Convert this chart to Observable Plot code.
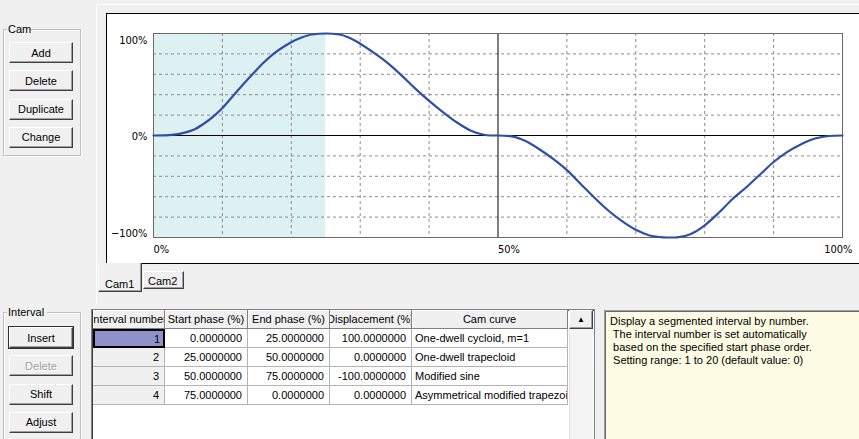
<!DOCTYPE html>
<html>
<head>
<meta charset="utf-8">
<script src="https://cdn.jsdelivr.net/npm/d3@7"></script>
<script src="https://cdn.jsdelivr.net/npm/@observablehq/plot@0.6"></script>
<style>
  html, body { margin: 0; padding: 0; }
  body { width: 859px; height: 439px; overflow: hidden; background: #F0F0F0; position: relative;
         font-family: "Liberation Sans", Arial, sans-serif; font-size: 11px; color: #000; }
  .abs { position: absolute; box-sizing: border-box; }
  .group { border: 1px solid #bfbfbf; box-shadow: inset 1px 1px 0 #fff, 1px 1px 0 #fff; }
  .glabel { background: #F0F0F0; padding: 0 1px; line-height: 12px; }
  .btn { background: #F0F0F0; border-style: solid; border-width: 1px;
         border-color: #fff #404040 #404040 #fff; box-shadow: inset -1px -1px 0 #a0a0a0;
         display: flex; align-items: center; justify-content: center; }
  .btn.dis { color: #a0a0a0; text-shadow: 1px 1px 0 #fff; }
  .cell { overflow: hidden; white-space: nowrap; display: flex; align-items: center; }
  .hcell { background: #F0F0F0; justify-content: center; border-right: 1px solid #808080; border-bottom: 1px solid #808080;
           box-shadow: inset 1px 1px 0 #fff; }
  .dcell { background: #fff; border-right: 1px solid #b4b4b4; border-bottom: 1px solid #b4b4b4; }
  .num { justify-content: flex-end; padding-right: 5px; }
  .txt { justify-content: flex-start; padding-left: 3px; }
  .fixed { background: #F0F0F0; }
</style>
</head>
<body>
<div id="root"></div>
<script>
// ---------- chart data ----------
const phase = [0, 1.5, 3, 4.5, 6, 7.5, 9, 10, 11.5, 13, 14.5, 16, 17.5, 19, 20, 21.5, 23, 25,
  27, 28.5, 30, 32, 34, 36, 38, 40, 42, 44, 46, 47.5, 49, 50,
  52, 54, 56, 58, 60, 62, 64, 66, 68, 70, 72, 74, 75, 76, 78, 80, 82, 84, 86, 88, 90, 92, 94, 96, 98, 100];
const displacementCurve = [0, 0.1, 0.8, 2.8, 6.2, 12.5, 20.5, 27, 38.5, 50, 61, 71.5, 80.5, 87.5, 91.5, 96, 99, 100,
  99, 95.5, 90, 81, 71, 59, 46, 34, 23, 13, 5, 1.5, 0, 0,
  -0.8, -5.5, -13.5, -23, -34, -47.5, -61, -73.5, -84, -92.5, -98, -99.8, -100, -99.8, -96.5, -88, -76, -62.5, -51, -38.5, -26, -16, -8.5, -3, -0.5, 0];

const xTickValues = [0, 50, 100];
const yTickValues = [100, 0, -100];
const xTickLabels = ["0%", "50%", "100%"];
const yTickLabels = ["100%", "0%", "\u2212100%"];
const xGridValues = [10, 20, 30, 40, 60, 70, 80, 90];
const yGridValues = [80, 60, 40, 20, -20, -40, -60, -80];
const xDomain = [0, 100];
const yDomain = [-100, 100];

// ---------- table data ----------
const intervalNumber = [1, 2, 3, 4];
const startPhase = [0, 25, 50, 75];
const endPhase = [25, 50, 75, 0];
const displacement = [100, 0, -100, 0];
const camCurve = ["One-dwell cycloid, m=1", "One-dwell trapecloid", "Modified sine", "Asymmetrical modified trapezoid"];
const headers = ["Interval number", "Start phase (%)", "End phase (%)", "Displacement (%)", "Cam curve"];
const selectedInterval = 0;

const helpLines = [
  "Display a segmented interval by number.",
  " The interval number is set automatically",
  " based on the specified start phase order.",
  " Setting range: 1 to 20 (default value: 0)"
];

const root = document.getElementById("root");
function el(cls, style, text) {
  const d = document.createElement("div");
  d.className = cls;
  Object.assign(d.style, style);
  if (text !== undefined) d.textContent = text;
  root.appendChild(d);
  return d;
}
const px = v => v + "px";
function box(cls, l, t, w, h, text, extra) {
  return el(cls, Object.assign({left: px(l), top: px(t), width: px(w), height: px(h)}, extra || {}), text);
}

// splitter lines
box("abs", 96, 4, 1, 300, undefined, {background: "#fff"});
box("abs", 96, 4, 763, 1, undefined, {background: "#fff"});

// Cam group
box("abs group", 3, 29, 78, 127);
box("abs glabel", 7, 23, 22, 12, "Cam");
["Add", "Delete", "Duplicate", "Change"].forEach((t, i) => box("abs btn", 9, 42 + i * 28.3, 64, 21, t));

// Interval group
box("abs group", 3, 312, 78, 140);
box("abs glabel", 7, 306, 40, 12, "Interval");
["Insert", "Delete", "Shift", "Adjust"].forEach((t, i) =>
  box("abs btn" + (t === "Delete" ? " dis" : ""), 9, 327 + i * 28.3, 64, 21, t,
      t === "Insert" ? {outline: "1px solid #303030"} : {}));

// Chart panel
const panel = box("abs", 106, 13, 770, 251, undefined, {border: "1px solid #000", background: "#fff"});

const pts = phase.map((p, i) => ({p, v: displacementCurve[i]}));
const sel = [{start: startPhase[selectedInterval], end: endPhase[selectedInterval]}];

const chart = Plot.plot({
  width: 752, height: 248,
  marginLeft: 46, marginRight: 17, marginTop: 19, marginBottom: 25,
  x: {domain: xDomain, axis: null},
  y: {domain: yDomain, axis: null},
  style: {background: "white", fontFamily: "'Liberation Sans Narrow', 'DejaVu Sans Condensed', sans-serif", fontSize: "11px", color: "#000"},
  marks: [
    Plot.rect(sel, {x1: "start", x2: "end", y1: () => yDomain[0], y2: () => yDomain[1], fill: "#DDF1F3"}),
    Plot.ruleX(xGridValues, {stroke: "#8c8c8c", strokeDasharray: "3,3"}),
    Plot.ruleY(yGridValues, {stroke: "#8c8c8c", strokeDasharray: "3,3"}),
    Plot.ruleY([0], {stroke: "#000"}),
    Plot.ruleX([50], {stroke: "#000"}),
    Plot.frame({stroke: "#6a6a6a"}),
    Plot.line(pts, {x: "p", y: "v", stroke: "#2D4FA6", strokeWidth: 2.2, curve: "monotone-x"}),
    Plot.text(xTickValues.filter(d => d < 100), {x: d => d, text: d => xTickLabels[xTickValues.indexOf(d)],
      frameAnchor: "bottom", lineAnchor: "middle", textAnchor: "start", dy: 12, dx: 0}),
    Plot.text(xTickValues.filter(d => d === 100), {x: d => d, text: d => xTickLabels[xTickValues.indexOf(d)],
      frameAnchor: "bottom", lineAnchor: "middle", textAnchor: "end", dy: 12, dx: 10}),
    Plot.text(yTickValues.filter(d => d === 100), {y: d => d, text: d => yTickLabels[yTickValues.indexOf(d)],
      frameAnchor: "left", lineAnchor: "top", textAnchor: "end", dx: -6, dy: 3}),
    Plot.text(yTickValues.filter(d => d === 0), {y: d => d, text: d => yTickLabels[yTickValues.indexOf(d)],
      frameAnchor: "left", lineAnchor: "middle", textAnchor: "end", dx: -6, dy: 1}),
    Plot.text(yTickValues.filter(d => d === -100), {y: d => d, text: d => yTickLabels[yTickValues.indexOf(d)],
      frameAnchor: "left", lineAnchor: "bottom", textAnchor: "end", dx: -6, dy: -1})
  ]
});
chart.style.display = "block";
panel.appendChild(chart);

// Tabs
box("abs", 98, 263, 44, 29, undefined, {background: "#F0F0F0", borderLeft: "1px solid #fff", borderRight: "1px solid #404040", borderBottom: "1px solid #404040", boxShadow: "inset -1px -1px 0 #a0a0a0"});
box("abs", 105, 278, 30, 12, "Cam1");
box("abs", 143, 271, 41, 18, undefined, {background: "#F0F0F0", borderLeft: "1px solid #fff", borderTop: "1px solid #fff", borderRight: "1px solid #404040", borderBottom: "1px solid #404040", boxShadow: "inset -1px -1px 0 #a0a0a0"});
box("abs", 148, 275, 30, 12, "Cam2");

// Table
const colEdges = [92, 164, 247, 329, 411, 567];
const tTop = 310, rowH = 19;
box("abs", 91, tTop - 1, 504, 140, undefined, {border: "1px solid #808080", boxShadow: "inset 1px 1px 0 #404040", background: "#fff"});
headers.forEach((h, c) => {
  const l = colEdges[c] + 1, w = colEdges[c + 1] - colEdges[c];
  const d = box("abs cell hcell", l, tTop, w, rowH);
  const s = document.createElement("span"); s.textContent = h; s.style.flex = "none"; d.appendChild(s);
});
intervalNumber.forEach((n, r) => {
  const t = tTop + rowH * (r + 1);
  const vals = [String(n), startPhase[r].toFixed(7), endPhase[r].toFixed(7), displacement[r].toFixed(7), camCurve[r]];
  vals.forEach((v, c) => {
    const l = colEdges[c] + 1, w = colEdges[c + 1] - colEdges[c];
    let cls = "abs cell dcell " + (c === 4 ? "txt" : "num");
    if (c === 0) cls += " fixed";
    const extra = {};
    if (c === 0 && r === selectedInterval) { extra.background = "#9191C9"; extra.border = "2px solid #000"; extra.paddingRight = "3px"; }
    box(cls, l, t, w, rowH, v, extra);
  });
});
// scrollbar
box("abs", 569, tTop, 24, 135, undefined, {background: "#F4F4F4", borderLeft: "1px solid #e2e2e2"});
box("abs btn", 569, tTop, 24, 19, "\u25B2", {fontSize: "8px"});

// Help box
const help = box("abs", 604, 310, 270, 140, undefined, {background: "#FDFBE3", border: "1px solid #a0a0a0", boxShadow: "inset 1px 1px 0 #696969", padding: "4px 0 0 5px", lineHeight: "13px", whiteSpace: "pre"});
help.textContent = helpLines.join("\n");
</script>
</body>
</html>
